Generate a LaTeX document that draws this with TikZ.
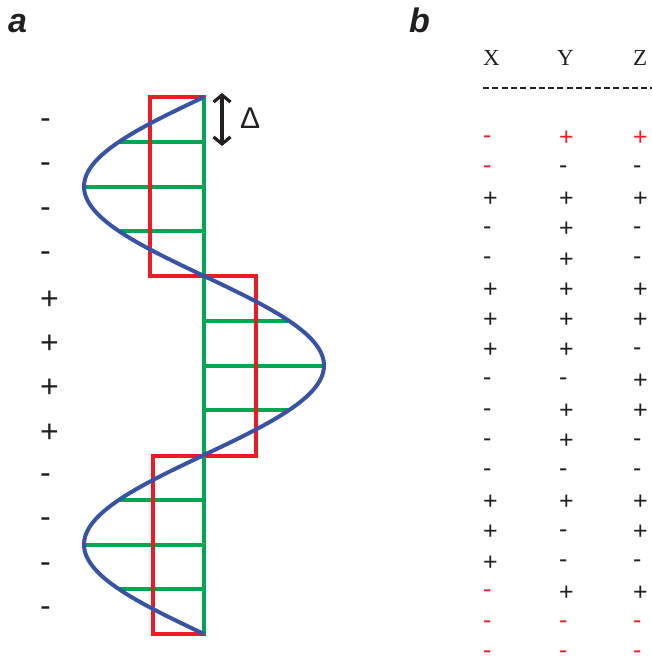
\documentclass[tikz,border=0pt]{standalone}
\usepackage{fontspec}
\setmainfont{Liberation Sans}
\newfontfamily\serifhead{Liberation Serif}
\usetikzlibrary{arrows.meta}
\definecolor{cblue}{RGB}{57,83,164}
\definecolor{cgreen}{RGB}{0,166,81}
\definecolor{cred}{RGB}{237,28,36}
\definecolor{cblack}{RGB}{35,31,32}
\newcommand\pl{\raisebox{-0.1em}{+}}
\newcommand\mi{-}
\newcommand\rd{\color{cred}}
\tikzset{
  tsign/.style={anchor=base west, inner sep=0pt, text=cblack, font=\fontsize{25}{28}\selectfont},
  lsign/.style={anchor=base west, inner sep=0pt, text=cblack, font=\fontsize{32}{36}\selectfont},
  thead/.style={anchor=base west, inner sep=0pt, text=cblack, font=\serifhead\fontsize{23}{26}\selectfont},
  panel/.style={anchor=base west, inner sep=0pt, text=cblack, font=\bfseries\itshape\fontsize{34}{38}\selectfont},
  redbox/.style={draw=cred, line width=4pt},
  greenline/.style={draw=cgreen, line width=4pt},
  wave/.style={draw=cblue, line width=4pt},
  deltaarrow/.style={draw=cblack, line width=3.2pt, {Straight Barb[length=7pt,width=17pt]}-{Straight Barb[length=7pt,width=17pt]}},
}
\begin{document}
\begin{tikzpicture}[x=1pt,y=-1pt]
\useasboundingbox (0,0) rectangle (651,661);
% panel labels
\node[panel] (la) at (8,33) {a};
\node[panel] (lb) at (409,33) {b};
% left signs
\foreach \s [count=\i from 0] in {\mi,\mi,\mi,\mi,\pl,\pl,\pl,\pl,\mi,\mi,\mi,\mi}{
  \pgfmathsetmacro\yb{120+44.4*\i+8.2}
  \node[lsign] (s\i) at (40,\yb) {\s};
}
% green horizontal rungs
\foreach \k in {0,1,2}{
  \foreach \t in {0.25,0.5,0.75}{
    \draw[greenline] (204,{97+179*(\k+\t)}) -- ({204-120*sin(180*(\k+\t))},{97+179*(\k+\t)});
  }
}
% red boxes
\draw[redbox] (150,97) rectangle (204,276);
\draw[redbox] (204,276) rectangle (256,456);
\draw[redbox] (153,456) rectangle (204,634);
% green axis
\draw[greenline] (204,97) -- (204,634);
% sine wave
\draw[wave] plot[domain=0:3, samples=241, smooth] ({204-120*sin(180*\x)}, {97+179*\x});
% delta arrow
\coordinate (dtop) at (222,93);
\coordinate (dbot) at (222,146);
\draw[deltaarrow] (dtop) -- (dbot);
\node[anchor=base west, inner sep=0pt, text=cblack, font=\fontsize{30}{34}\selectfont] (delta) at (240,128) {Δ};
% table header
\node[thead] (hx) at (483,66) {X};
\node[thead] (hy) at (557,66) {Y};
\node[thead] (hz) at (633,66) {Z};
\coordinate (dl) at (483,88);
\coordinate (dr) at (652,88);
\draw[cblack, line width=1.5pt, dash pattern=on 6pt off 3.3pt] (dl) -- (dr);
% table rows
\foreach \xa/\ya/\za [count=\i from 0] in {
 {\rd\mi}/{\rd\pl}/{\rd\pl}, {\rd\mi}/\mi/\mi, \pl/\pl/\pl, \mi/\pl/\mi, \mi/\pl/\mi, \pl/\pl/\pl,
 \pl/\pl/\pl, \pl/\pl/\mi, \mi/\mi/\pl, \mi/\pl/\pl, \mi/\pl/\mi, \mi/\mi/\mi,
 \pl/\pl/\pl, \pl/\mi/\pl, \pl/\mi/\mi, {\rd\mi}/\pl/\pl, {\rd\mi}/{\rd\mi}/{\rd\mi}, {\rd\mi}/{\rd\mi}/{\rd\mi}}{
  \pgfmathsetmacro\yb{137+30.3*\i+6.3}
  \node[tsign] (x\i) at (483,\yb) {\xa};
  \node[tsign] (y\i) at (559,\yb) {\ya};
  \node[tsign] (z\i) at (633,\yb) {\za};
}
\end{tikzpicture}
\end{document}
